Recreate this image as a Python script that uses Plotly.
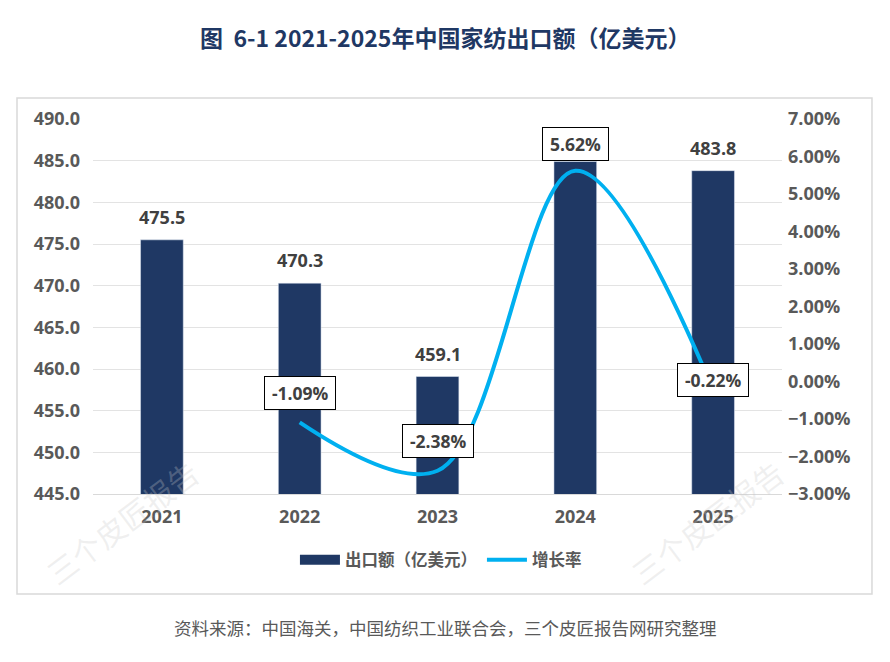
import plotly.graph_objects as go

years = ['2021', '2022', '2023', '2024', '2025']
export_value = [475.5, 470.3, 459.1, 484.9, 483.8]   # 亿美元
growth_years = ['2022', '2023', '2024', '2025']
growth_rate = [-0.0109, -0.0238, 0.0562, -0.0022]
growth_shift = [29, 30, 27, 10]   # label offsets above the points

navy = '#1F3864'
cyan = '#00B0F0'
grey = '#595959'
cjk = 'Noto Sans CJK SC'
num_font = dict(family='Open Sans', size=18, color=grey, weight='bold')

fig = go.Figure()

fig.add_trace(go.Bar(
    x=years, y=export_value, name='出口额（亿美元）',
    marker_color=navy, width=0.31, yaxis='y', showlegend=False,
))
# legend-only entry so the bar key is drawn as a wide block like the original
fig.add_trace(go.Scatter(
    x=[None], y=[None], name='出口额（亿美元）', mode='lines',
    line=dict(color=navy, width=10),
))
fig.add_trace(go.Scatter(
    x=growth_years, y=growth_rate, name='增长率', yaxis='y2',
    mode='lines', line=dict(color=cyan, width=4, shape='spline', smoothing=1.0),
))

# value labels on bars (2024 is hidden behind the growth label in the original)
# annotation x on a category axis: use the category index
for i, v in enumerate(export_value):
    if years[i] == '2024':
        continue
    fig.add_annotation(x=i, y=v, xref='x', yref='y', text=f'{v:.1f}',
                       showarrow=False, yshift=23,
                       font=dict(family='Open Sans', size=18, color='#404040', weight='bold'))

for yr, g, s in zip(growth_years, growth_rate, growth_shift):
    fig.add_annotation(x=years.index(yr), y=g, xref='x', yref='y2',
                       text=f'\u2009{g*100:.2f}%\u2009',
                       showarrow=False, yshift=s, bgcolor='white',
                       bordercolor='#000000', borderwidth=1, borderpad=4,
                       font=dict(family='Open Sans', size=17.5, color='#404040', weight='bold'))

# title, source and watermarks
fig.add_annotation(x=0.511, y=1.219, xref='paper', yref='paper', showarrow=False,
                   yanchor='middle', xanchor='center',
                   text='图\u00a0 6-1 2021-2025年中国家纺出口额（亿美元）',
                   font=dict(family=cjk, size=23, color=navy, weight='bold'))
fig.add_annotation(x=0.511, y=-0.357, xref='paper', yref='paper', showarrow=False,
                   yanchor='middle', xanchor='center',
                   text='资料来源：中国海关，中国纺织工业联合会，三个皮匠报告网研究整理',
                   font=dict(family=cjk, size=17.5, color=grey))
for wx in [0.042, 0.891]:
    fig.add_annotation(x=wx, y=-0.075, xref='paper', yref='paper', showarrow=False,
                       yanchor='middle', xanchor='center',
                       text='三个皮匠报告', textangle=-37,
                       font=dict(family=cjk, size=30, color='rgba(200,200,200,0.28)'))

# outer frame
fig.add_shape(type='rect', xref='paper', yref='paper',
              x0=-0.1103, x1=1.1306, y0=-0.2667, y1=1.056,
              line=dict(color='#D9D9D9', width=1.5), fillcolor='rgba(0,0,0,0)', layer='below')

fig.update_layout(
    width=890, height=662,
    margin=dict(l=85, r=116, t=111, b=176),
    paper_bgcolor='white', plot_bgcolor='white',
    showlegend=True,
    legend=dict(orientation='h', x=0.505, xanchor='center', y=-0.176, yanchor='middle',
                font=dict(family=cjk, size=16.5, color=grey, weight='bold'),
                itemwidth=40, traceorder='normal'),
    xaxis=dict(type='category', range=[-0.5, 4.5],
               tickfont=num_font,
               showline=True, linecolor='#D9D9D9', ticks='', ticklabelstandoff=6),
    yaxis=dict(range=[445, 490], dtick=5, tickformat='.1f',
               tickfont=num_font,
               gridcolor='#E3E3E3', zeroline=False, ticklabelstandoff=12),
    yaxis2=dict(range=[-0.03, 0.07], dtick=0.01, tickformat='.2%', overlaying='y', side='right',
                tickfont=num_font,
                showgrid=False, zeroline=False, ticklabelstandoff=5),
)

fig.write_html("out.html")
